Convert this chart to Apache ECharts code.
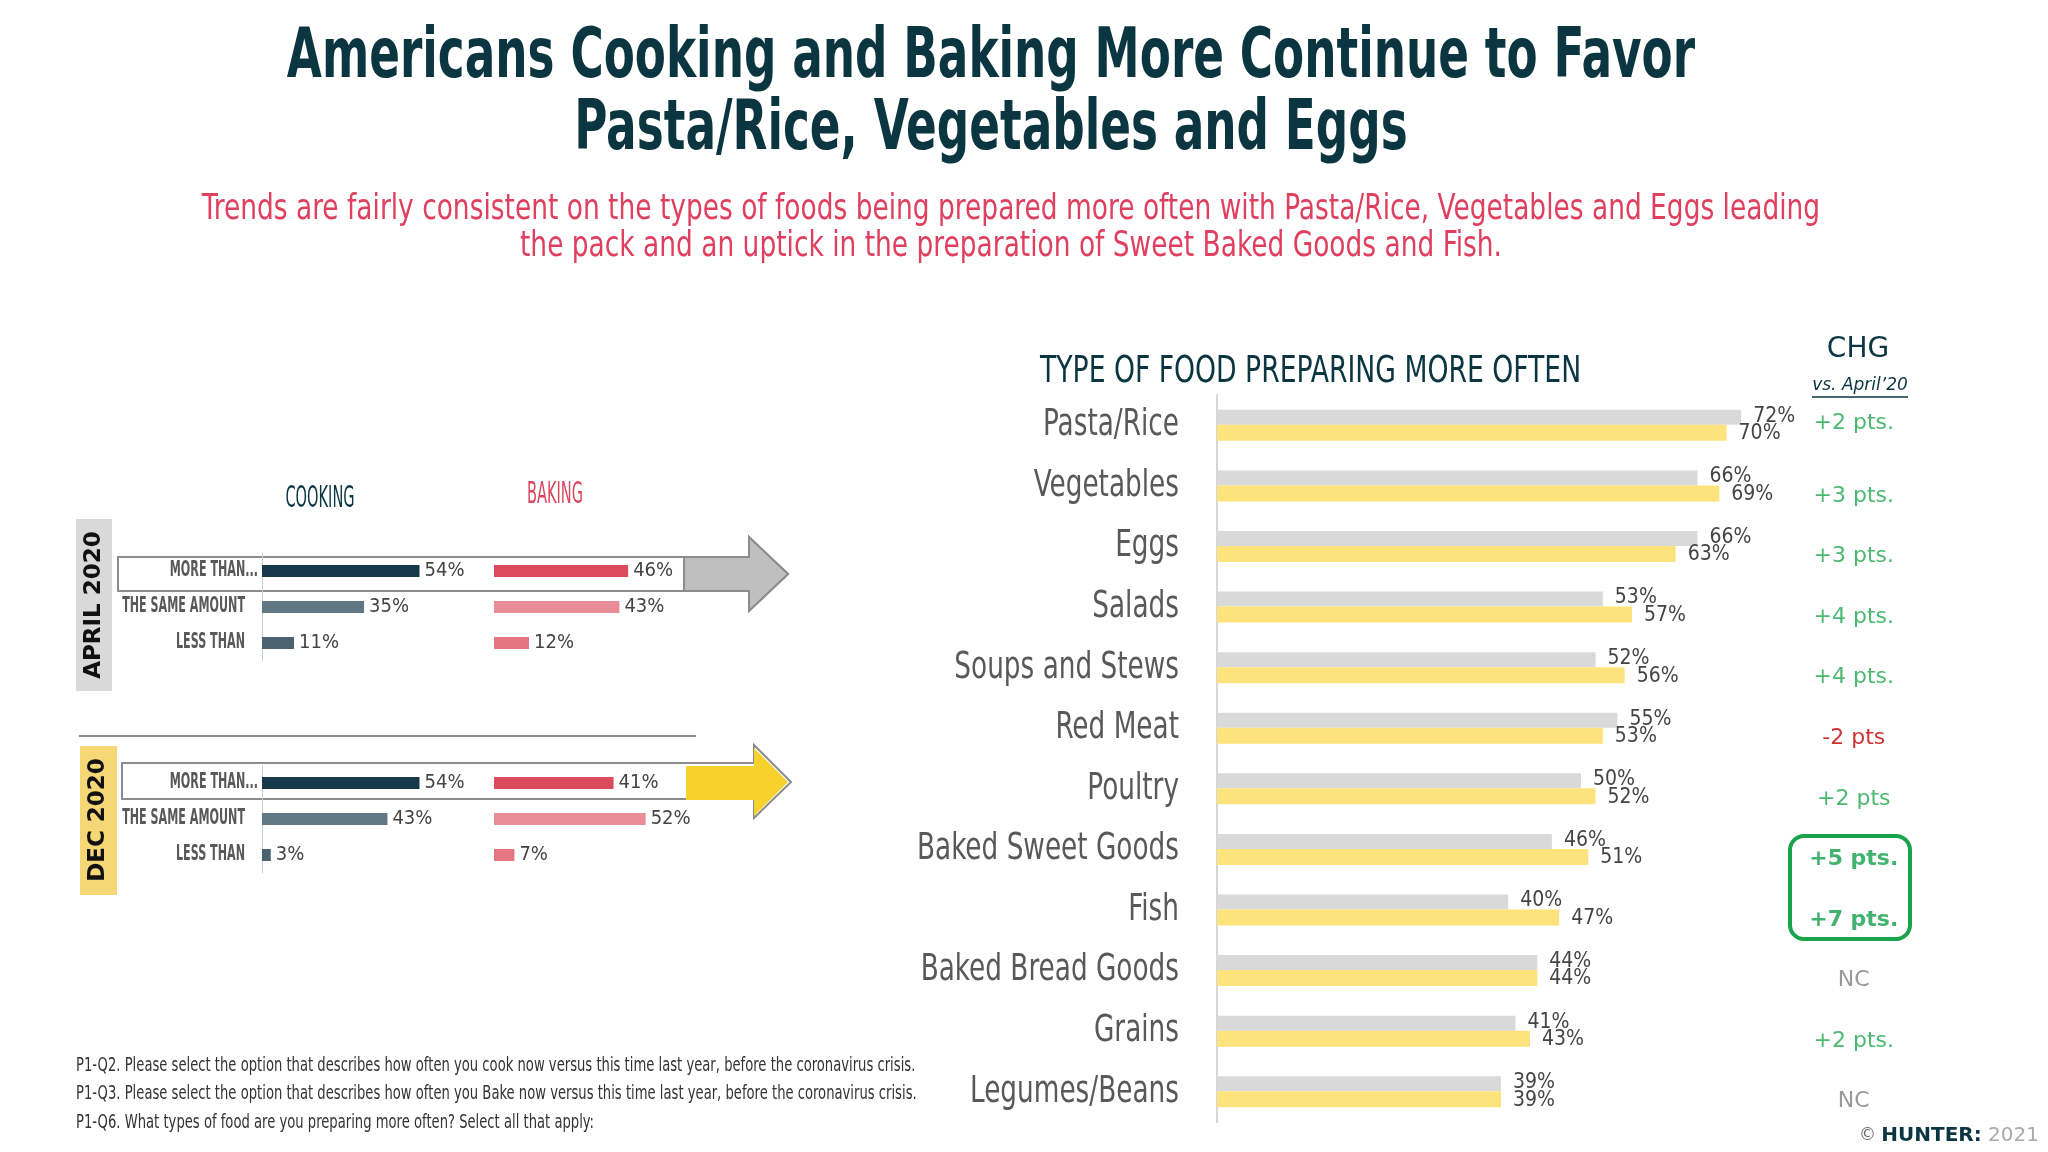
<!DOCTYPE html>
<html><head><meta charset="utf-8">
<script src="https://cdn.jsdelivr.net/npm/echarts@6/dist/echarts.min.js"></script>
<style>html,body{margin:0;padding:0;background:#fff}#c{width:2048px;height:1152px}</style>
</head><body><div id="c"></div><script>
const NARROW = "'Liberation Sans Narrow','DejaVu Sans Condensed',sans-serif";
const WIDE = "'DejaVu Sans',sans-serif";

// ---- data ----
const leftCategories = ['MORE THAN...', 'THE SAME AMOUNT', 'LESS THAN'];
const cookApr = [54, 35, 11];
const bakeApr = [46, 43, 12];
const cookDec = [54, 43, 3];
const bakeDec = [41, 52, 7];

const foodCategories = ['Pasta/Rice', 'Vegetables', 'Eggs', 'Salads', 'Soups and Stews', 'Red Meat', 'Poultry', 'Baked Sweet Goods', 'Fish', 'Baked Bread Goods', 'Grains', 'Legumes/Beans'];
const april20 = [72, 66, 66, 53, 52, 55, 50, 46, 40, 44, 41, 39];
const dec20 = [70, 69, 63, 57, 56, 53, 52, 51, 47, 44, 43, 39];
const chgLabels = ['+2 pts.', '+3 pts.', '+3 pts.', '+4 pts.', '+4 pts.', '-2 pts', '+2 pts', '+5 pts.', '+7 pts.', 'NC', '+2 pts.', 'NC'];

const cookColors = ['#17394a', '#5f7884', '#4b6270'];
const bakeColors = ['#dc4a5d', '#e98d98', '#e67582'];

const chart = echarts.init(document.getElementById('c'), null, {renderer: 'canvas'});

function leftBar(data, colors, xi) {
  return {
    type: 'bar', xAxisIndex: xi, yAxisIndex: xi, barWidth: 12,
    data: data.map((v, i) => ({value: v, itemStyle: {color: colors[i]}})),
    label: {show: true, position: 'right', distance: 5, formatter: '{c}%', fontFamily: NARROW, fontSize: 20, color: '#444'},
    z: 3
  };
}
function leftY(idx, showLine) {
  return {
    type: 'category', gridIndex: idx, data: leftCategories, inverse: true,
    axisLine: {show: showLine, lineStyle: {color: '#cfcfcf', width: 1}},
    axisTick: {show: false},
    axisLabel: {show: false}
  };
}
function leftX(idx) {
  return {type: 'value', gridIndex: idx, min: 0, max: 60, show: false};
}

const chgStyle = t => {
  if (t[0] === '-') return {color: '#c00000'};
  if (t === 'NC') return {color: '#7f7f7f'};
  if (t === '+5 pts.' || t === '+7 pts.') return {color: '#13a04a', fontWeight: 'bold'};
  return {color: '#1fa64d'};
};

function txt(x, y, text, font, size, fill, sx, extra) {
  return Object.assign({type: 'text', x: x, y: y, scaleX: sx || 1,
    style: Object.assign({text: text, textAlign: 'center', textVerticalAlign: 'middle', fontFamily: font, fontSize: size, fill: fill}, extra || {})});
}

const baseGraphic = [
  // titles
  txt(991, 59, 'Americans Cooking and Baking More Continue to Favor', NARROW, 70, '#0b3641', 0.72, {fontWeight: 'bold'}),
  txt(991, 131, 'Pasta/Rice, Vegetables and Eggs', NARROW, 70, '#0b3641', 0.72, {fontWeight: 'bold'}),
  txt(1011, 210, 'Trends are fairly consistent on the types of foods being prepared more often with Pasta/Rice, Vegetables and Eggs leading', NARROW, 35, '#e0405f', 0.84),
  txt(1011, 247, 'the pack and an uptick in the preparation of Sweet Baked Goods and Fish.', NARROW, 35, '#e0405f', 0.84),
  // section headers
  txt(320, 499, 'COOKING', NARROW, 30, '#0b3641', 0.54),
  txt(555, 495, 'BAKING', NARROW, 30, '#d9475f', 0.54),
  txt(1040, 372, 'TYPE OF FOOD PREPARING MORE OFTEN', NARROW, 38, '#0b3641', 0.78, {textAlign: 'left'}),
  // arrows (April)
  {type: 'polygon', z: 0, shape: {points: [[118, 557], [749, 557], [749, 537], [788, 574], [749, 611], [749, 591], [118, 591]]}, style: {fill: '#ffffff', stroke: '#8c8c8c', lineWidth: 2}},
  {type: 'polygon', z: 0, shape: {points: [[684, 557], [749, 557], [749, 537], [788, 574], [749, 611], [749, 591], [684, 591]]}, style: {fill: '#bfbfbf', stroke: '#8c8c8c', lineWidth: 2}},
  // arrows (Dec)
  {type: 'polygon', z: 0, shape: {points: [[122, 763], [754, 763], [754, 745], [791, 782], [754, 818], [754, 799], [122, 799]]}, style: {fill: '#ffffff', stroke: '#8c8c8c', lineWidth: 2}},
  {type: 'polygon', z: 0, shape: {points: [[686, 766], [754, 766], [754, 748], [788, 782], [754, 816], [754, 800], [686, 800]]}, style: {fill: '#f7d22c'}},
  // divider
  {type: 'line', z: 0, shape: {x1: 79, y1: 736, x2: 696, y2: 736}, style: {stroke: '#8a8a8a', lineWidth: 2}},
  // bands
  {type: 'rect', z: 0, shape: {x: 76, y: 519, width: 36, height: 172}, style: {fill: '#d9d9d9'}},
  {type: 'text', x: 94, y: 605, rotation: Math.PI / 2, style: {text: 'APRIL 2020', textAlign: 'center', textVerticalAlign: 'middle', fontFamily: WIDE, fontWeight: 'bold', fontSize: 23, fill: '#111'}},
  {type: 'rect', z: 0, shape: {x: 80, y: 746, width: 37, height: 149}, style: {fill: '#f6d776'}},
  {type: 'text', x: 98, y: 820, rotation: Math.PI / 2, style: {text: 'DEC 2020', textAlign: 'center', textVerticalAlign: 'middle', fontFamily: WIDE, fontWeight: 'bold', fontSize: 23, fill: '#111'}},
  // CHG header
  txt(1858, 350, 'CHG', WIDE, 28, '#0b3641'),
  txt(1860, 386, 'vs. April\u201920', WIDE, 17, '#0b3641', 1, {fontStyle: 'italic'}),
  {type: 'line', shape: {x1: 1812, y1: 397, x2: 1908, y2: 397}, style: {stroke: '#0b3641', lineWidth: 1.5}},
  {type: 'rect', shape: {x: 1790, y: 836, width: 120, height: 103, r: 14}, style: {fill: 'none', stroke: '#1aa34a', lineWidth: 4}},
  // footnotes
  txt(76, 1066, 'P1-Q2. Please select the option that describes how often you cook now versus this time last year, before the coronavirus crisis.', NARROW, 19, '#333', 0.77, {textAlign: 'left'}),
  txt(76, 1094, 'P1-Q3. Please select the option that describes how often you Bake now versus this time last year, before the coronavirus crisis.', NARROW, 19, '#333', 0.77, {textAlign: 'left'}),
  txt(76, 1123, 'P1-Q6. What types of food are you preparing more often? Select all that apply:', NARROW, 19, '#333', 0.77, {textAlign: 'left'}),
  // footer
  {type: 'text', x: 2039, y: 1136, style: {text: '{c|\u00a9 }{h|HUNTER:}{y| 2021}', textAlign: 'right', textVerticalAlign: 'middle',
    rich: {c: {fontFamily: WIDE, fontSize: 17, fill: '#666'}, h: {fontFamily: WIDE, fontWeight: 'bold', fontSize: 20, fill: '#0b3641'}, y: {fontFamily: WIDE, fontSize: 20, fill: '#aaa'}}}}
];

const option = {
  backgroundColor: '#ffffff',
  animation: false,
  grid: [
    {left: 262, top: 553, width: 175, height: 108},
    {left: 494, top: 553, width: 175, height: 108},
    {left: 262, top: 765, width: 175, height: 108},
    {left: 494, top: 765, width: 175, height: 108},
    {left: 1217, top: 395, width: 728, height: 727},
    {left: 1800, top: 395, width: 128, height: 727}
  ],
  xAxis: [
    leftX(0), leftX(1), leftX(2), leftX(3),
    {type: 'value', gridIndex: 4, min: 0, max: 100, show: false},
    {type: 'value', gridIndex: 5, min: 0, max: 1, show: false}
  ],
  yAxis: [
    leftY(0, true), leftY(1, false), leftY(2, true), leftY(3, false),
    {
      type: 'category', gridIndex: 4, data: foodCategories, inverse: true,
      axisLine: {show: true, lineStyle: {color: '#d6d6d6', width: 2}},
      axisTick: {show: false},
      axisLabel: {show: false}
    },
    {type: 'category', gridIndex: 5, data: foodCategories, inverse: true, show: false}
  ],
  series: [
    leftBar(cookApr, cookColors, 0),
    leftBar(bakeApr, bakeColors, 1),
    leftBar(cookDec, cookColors, 2),
    leftBar(bakeDec, bakeColors, 3),
    {
      name: "April'20", type: 'bar', xAxisIndex: 4, yAxisIndex: 4, barWidth: 15, barGap: '0%',
      data: april20, itemStyle: {color: '#d9d9d9'},
      label: {show: true, position: 'right', distance: 12, offset: [0, -1], formatter: '{c}%', fontFamily: NARROW, fontSize: 21, color: '#444'}
    },
    {
      name: "Dec'20", type: 'bar', xAxisIndex: 4, yAxisIndex: 4, barWidth: 16, barGap: '0%',
      data: dec20, itemStyle: {color: '#fde37b'},
      label: {show: true, position: 'right', distance: 12, offset: [0, 1], formatter: '{c}%', fontFamily: NARROW, fontSize: 21, color: '#444'}
    },
    {
      type: 'scatter', xAxisIndex: 5, yAxisIndex: 5, symbolSize: 0,
      data: chgLabels.map((t, i) => ({
        value: [0.42, i],
        label: Object.assign({show: true, position: 'inside', offset: [0, i === 0 ? -2 : 10], formatter: t, fontFamily: WIDE, fontSize: 22}, chgStyle(t))
      }))
    }
  ],
  graphic: baseGraphic
};
chart.setOption(option);

// category labels drawn through the axes' own scales (condensed via scaleX)
const extra = [];
const foodX = chart.convertToPixel({xAxisIndex: 4}, 0) - 38;
foodCategories.forEach(c => {
  const y = chart.convertToPixel({yAxisIndex: 4}, c);
  extra.push(txt(foodX, y, c, NARROW, 38, '#595959', 0.77, {textAlign: 'right'}));
});
[0, 2].forEach(ai => {
  const x0 = chart.convertToPixel({xAxisIndex: ai}, 0);
  leftCategories.forEach((c, i) => {
    const y = chart.convertToPixel({yAxisIndex: ai}, c);
    extra.push(txt(x0 - (i === 0 ? 4 : 17), y, c, NARROW, 21, '#595959', 0.59, {textAlign: 'right', fontWeight: 'bold'}));
  });
});
chart.setOption({graphic: baseGraphic.concat(extra)});
</script></body></html>
